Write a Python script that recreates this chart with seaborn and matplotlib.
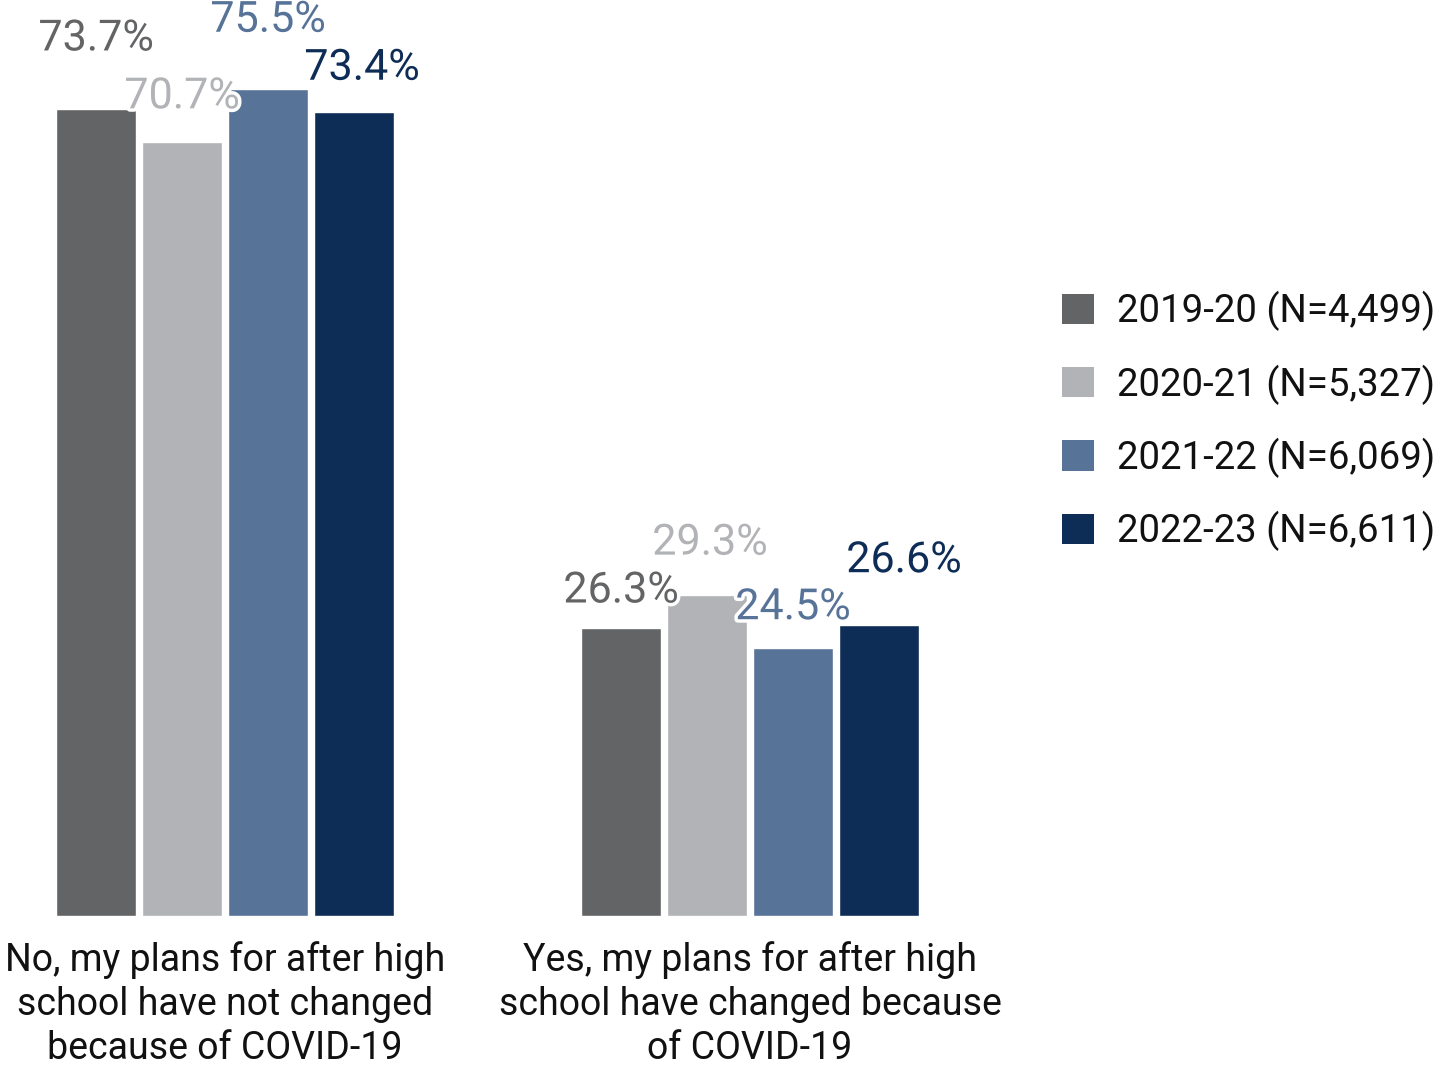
import matplotlib
matplotlib.use("Agg")
import matplotlib.pyplot as plt
import matplotlib.patheffects as pe
from matplotlib.patches import Patch
import pandas as pd
import seaborn as sns

# Survey responses by school year (percent of students)
categories = [
    "No, my plans for after high\nschool have not changed\nbecause of COVID-19",
    "Yes, my plans for after high\nschool have changed because\nof COVID-19",
]
years = [
    "2019-20 (N=4,499)",
    "2020-21 (N=5,327)",
    "2021-22 (N=6,069)",
    "2022-23 (N=6,611)",
]
pct_2019 = [73.7, 26.3]
pct_2020 = [70.7, 29.3]
pct_2021 = [75.5, 24.5]
pct_2022 = [73.4, 26.6]

colors = ["#636466", "#b1b3b6", "#587398", "#0e2d56"]

# Label offsets (pixels, relative to the top centre of each bar) so labels don't collide
label_offsets = {
    (0, 0): (0, 70), (1, 0): (0, 45), (2, 0): (0, 69), (3, 0): (8, 44),
    (0, 1): (0, 37), (1, 1): (3, 52), (2, 1): (0, 40), (3, 1): (25, 64),
}

series = [pct_2019, pct_2020, pct_2021, pct_2022]
df = pd.DataFrame({
    "category": [c for s in series for c in categories],
    "year": [y for y, s in zip(years, series) for _ in s],
    "pct": [v for s in series for v in s],
})

sns.set_theme(style="white")
plt.rcParams["font.family"] = ["Roboto", "DejaVu Sans"]

W, H = 1435, 1067
fig = plt.figure(figsize=(W / 100, H / 100), dpi=100)
ax = fig.add_axes([0, 151 / H, 1000 / W, 916 / H])

sns.barplot(data=df, x="category", y="pct", hue="year", order=categories,
            hue_order=years, palette=colors, width=0.655, gap=0.06,
            saturation=1, ax=ax, legend=False)

ax.set_xlim(-225 / 525, (1000 - 225) / 525)
ax.set_ylim(0, 83.65)
ax.set_xlabel("")
ax.set_ylabel("")
ax.set_yticks([])
sns.despine(ax=ax, left=True, bottom=True)
ax.tick_params(axis="x", length=0, pad=18, labelsize=27, colors="#111111")
for t in ax.get_xticklabels():
    t.set_linespacing(1.25)

halo = [pe.withStroke(linewidth=5, foreground="white")]
for hi, cont in enumerate(ax.containers):
    for ci, bar in enumerate(cont):
        val = series[hi][ci]
        dx, dy = label_offsets[(hi, ci)]
        ax.annotate(f"{val:.1f}%",
                    xy=(bar.get_x() + bar.get_width() / 2, bar.get_height()),
                    xytext=(dx, dy), textcoords="offset pixels",
                    ha="center", va="center", fontsize=31,
                    color=colors[hi], path_effects=halo,
                    annotation_clip=False, zorder=5)

handles = [Patch(facecolor=c, edgecolor="none") for c in colors]
fig.legend(handles, years, loc="center left",
           bbox_to_anchor=(1062 / W, 1 - 421 / H), frameon=False,
           fontsize=27.6, handlelength=0.83, handleheight=0.83,
           handletextpad=0.6, labelspacing=0.86, borderpad=0,
           borderaxespad=0, labelcolor="#111111")

fig.savefig("out.png", dpi=100)
